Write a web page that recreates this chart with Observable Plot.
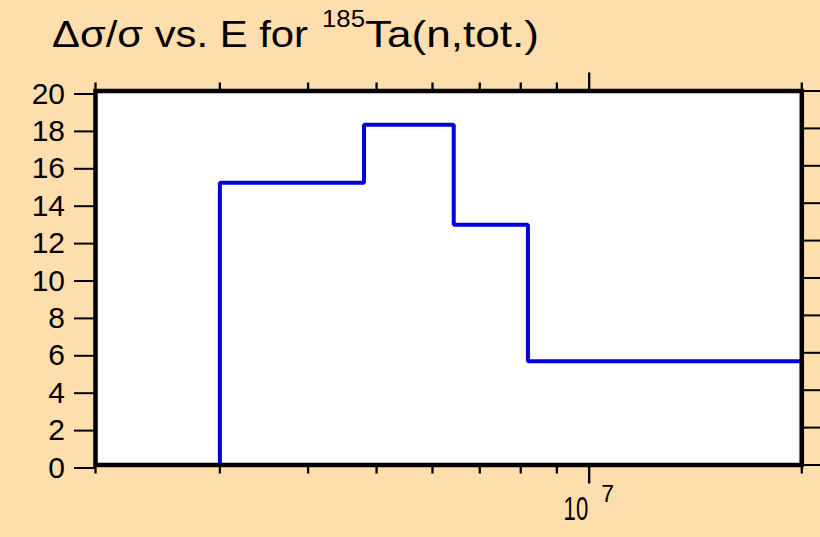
<!DOCTYPE html>
<html>
<head>
<meta charset="utf-8">
<script src="https://cdn.jsdelivr.net/npm/d3@7"></script>
<script src="https://cdn.jsdelivr.net/npm/@observablehq/plot@0.6"></script>
<style>
  html, body { margin: 0; padding: 0; background: #FFDEAD; }
  #chart { width: 820px; height: 537px; }
</style>
</head>
<body>
<div id="chart"></div>
<script>
// Energy bin edges (eV) and relative uncertainty (%) per bin
const binEdges = [3e6, 4.8e6, 6.43e6, 8.19e6, 2e7];
const binValues = [15.1, 18.2, 12.85, 5.55];
// Axis ticks
const yTicks = [0, 2, 4, 6, 8, 10, 12, 14, 16, 18, 20];
const xMinorTicks = [2e6, 3e6, 4e6, 5e6, 6e6, 7e6, 8e6, 9e6, 2e7];
const xMajorTicks = [1e7];
const xMajorBase = ["10"];
const xMajorExp = ["7"];

// Build step outline (histogram) from the bins
const stepPoints = [{E: binEdges[0], v: 0}];
binValues.forEach((v, i) => {
  stepPoints.push({E: binEdges[i], v});
  stepPoints.push({E: binEdges[i + 1], v});
});
stepPoints.push({E: binEdges[binEdges.length - 1], v: 0});

const font = "'Liberation Sans', Arial, Helvetica, sans-serif";

const chart = Plot.plot({
  width: 820,
  height: 537,
  marginLeft: 95,
  marginRight: 18.7,
  marginTop: 90.5,
  marginBottom: 72.5,
  style: {background: "#FFDEAD", fontFamily: font, color: "black"},
  x: {type: "log", domain: [2e6, 2e7], axis: null},
  y: {domain: [0, 20], axis: null},
  marks: [
    Plot.frame({fill: "white", stroke: null}),
    Plot.line(stepPoints, {x: "E", y: "v", stroke: "#0000dd", strokeWidth: 4, strokeLinejoin: "miter", strokeLinecap: "butt"}),
    Plot.frame({stroke: "black", strokeWidth: 4.5}),
    // left y axis with labels
    Plot.axisY({anchor: "left", ticks: yTicks, tickSize: 21, tickPadding: 9.5, fontSize: 30, strokeWidth: 2, dy: 3, label: null}),
    // right y ticks
    Plot.axisY({anchor: "right", ticks: yTicks, tickSize: 20, strokeWidth: 2, tickFormat: () => "", label: null}),
    // bottom x ticks
    Plot.axisX({anchor: "bottom", ticks: xMinorTicks, tickSize: 9, strokeWidth: 2.3, tickFormat: () => "", label: null}),
    Plot.axisX({anchor: "bottom", ticks: xMajorTicks, tickSize: 19, strokeWidth: 2.3, tickFormat: () => "", label: null}),
    // top x ticks
    Plot.axisX({anchor: "top", ticks: xMinorTicks, tickSize: 9, strokeWidth: 2.3, tickFormat: () => "", label: null}),
    Plot.axisX({anchor: "top", ticks: xMajorTicks, tickSize: 19, strokeWidth: 2.3, tickFormat: () => "", label: null}),
    // major tick label 10^7
    Plot.text(xMajorTicks, {x: d => d, text: (d, i) => xMajorBase[i], frameAnchor: "bottom", lineAnchor: "bottom", textAnchor: "end", dy: 54.5, dx: -1, fontSize: 33, className: "xbase"}),
    Plot.text(xMajorTicks, {x: d => d, text: (d, i) => xMajorExp[i], frameAnchor: "bottom", lineAnchor: "bottom", textAnchor: "start", dy: 37, dx: 12, fontSize: 23})
  ]
});

document.getElementById("chart").appendChild(chart);

const svg = d3.select(chart);
// narrow the "10" glyphs horizontally around their anchor, as in the reference
svg.selectAll(".xbase text").each(function() {
  const tr = this.getAttribute("transform") || "";
  this.setAttribute("transform", tr + " scale(0.67,1)");
});

// Title with superscript
const title = svg.append("g").attr("font-family", font).attr("fill", "black").attr("text-anchor", "start");
title.append("text").attr("x", 52).attr("y", 47).attr("font-size", 36)
  .attr("textLength", 256).attr("lengthAdjust", "spacingAndGlyphs")
  .text("\u0394\u03c3/\u03c3 vs. E for");
title.append("text").attr("x", 322).attr("y", 27).attr("font-size", 24)
  .attr("textLength", 43).attr("lengthAdjust", "spacingAndGlyphs")
  .text("185");
title.append("text").attr("x", 365).attr("y", 47).attr("font-size", 36)
  .attr("textLength", 174).attr("lengthAdjust", "spacingAndGlyphs")
  .text("Ta(n,tot.)");
</script>
</body>
</html>
